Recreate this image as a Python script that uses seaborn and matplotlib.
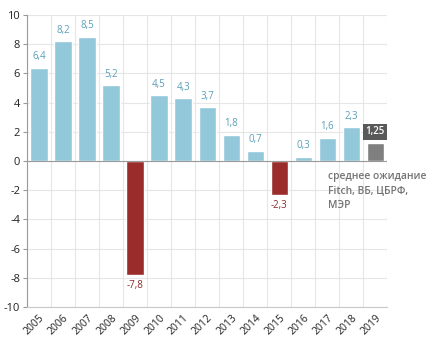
import matplotlib
matplotlib.use('agg')
import matplotlib.pyplot as plt
import seaborn as sns
import pandas as pd
import numpy as np

years = ['2005', '2006', '2007', '2008', '2009', '2010', '2011', '2012',
         '2013', '2014', '2015', '2016', '2017', '2018', '2019']
values = [6.4, 8.2, 8.5, 5.2, -7.8, 4.5, 4.3, 3.7, 1.8, 0.7, -2.3, 0.3, 1.6, 2.3, 1.25]
labels = ['6,4', '8,2', '8,5', '5,2', '-7,8', '4,5', '4,3', '3,7', '1,8', '0,7',
          '-2,3', '0,3', '1,6', '2,3', '1,25']

blue = '#93c8db'
red = '#9a2c2c'
grey = '#7f7f7f'
colors = []
for y, v in zip(years, values):
    if y == '2019':
        colors.append(grey)
    elif v < 0:
        colors.append(red)
    else:
        colors.append(blue)

df = pd.DataFrame({'year': years, 'value': values})

sns.set_style('white')
plt.rcParams['font.family'] = ['Open Sans', 'DejaVu Sans']

fig = plt.figure(figsize=(4.33, 3.57), dpi=100)
ax = fig.add_axes([0.0624, 0.140, 0.832, 0.818])

sns.barplot(data=df, x='year', y='value', hue='year', palette=colors,
            legend=False, width=0.72, saturation=1, ax=ax)

ax.set_ylim(-10, 10)
ax.set_xlim(-0.5, len(years) - 0.5)
ax.set_yticks(np.arange(-10, 11, 2))
ax.set_yticklabels([str(t) for t in range(-10, 11, 2)], fontsize=8, color='#222222')
ax.set_xticks(range(len(years)))
ax.set_xticklabels(years, rotation=45, ha='right', rotation_mode='anchor', fontsize=7.5, color='#222222')
ax.set_xlabel('')
ax.set_ylabel('')

# grid: horizontal at ticks, vertical at category boundaries
for t in range(-10, 11, 2):
    ax.axhline(t, color='#e6e6e6', lw=0.8, zorder=0)
for k in range(len(years) + 1):
    ax.axvline(k - 0.5, color='#e6e6e6', lw=0.8, zorder=0)
ax.axhline(0, color='#9a9a9a', lw=0.8, zorder=1)

for s in ['top', 'right']:
    ax.spines[s].set_visible(False)
ax.spines['left'].set_color('#9a9a9a')
ax.spines['left'].set_linewidth(0.8)
ax.spines['bottom'].set_color('#c8c8c8')
ax.spines['bottom'].set_linewidth(0.8)
ax.tick_params(axis='y', length=3, color='#9a9a9a', pad=2, left=True)
ax.tick_params(axis='x', length=0, pad=4)

for i, (v, lab) in enumerate(zip(values, labels)):
    if years[i] == '2019':
        ax.text(i, v + 0.75, lab, ha='center', va='center', fontsize=7,
                color='white', fontweight='semibold',
                bbox=dict(boxstyle='square,pad=0.25', fc='#595959', ec='none'))
    elif v >= 0:
        ax.text(i, v + 0.75, lab, ha='center', va='center', fontsize=7, color='#5b9fb8')
    else:
        ax.text(i, v - 0.75, lab, ha='center', va='center', fontsize=7, color='#8a2a2a')

ax.text(12.05, -0.7, 'среднее ожидание\nFitch, ВБ, ЦБРФ,\nМЭР', ha='left', va='top',
        fontsize=7.4, color='#737373', fontweight='semibold', linespacing=1.4)

fig.savefig('out.png', dpi=100)
